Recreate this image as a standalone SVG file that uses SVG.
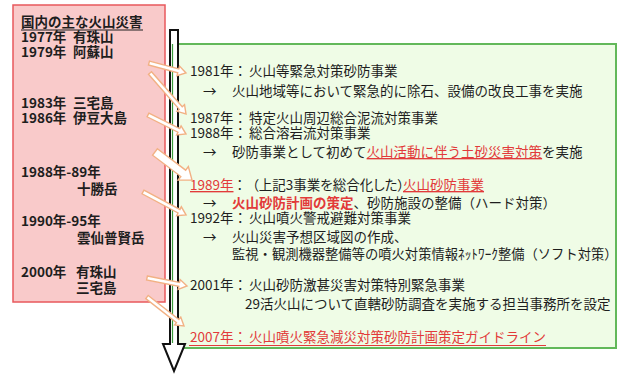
<svg xmlns="http://www.w3.org/2000/svg" width="618" height="376" viewBox="0 0 618 376">
<style>
.t{font-family:"Noto Sans CJK JP","Noto Sans",sans-serif;font-size:13.5px;fill:#1e1e1e}
.b{font-weight:bold}
.r{fill:#e23a3a}
.u{text-decoration:underline}
.p{font-feature-settings:"palt"}
.con{fill:#ffffff;stroke:#f2b184;stroke-width:1.4;stroke-linejoin:miter}
</style>
<rect width="618" height="376" fill="#ffffff"/>
<g id="disasters">
<rect x="13" y="5" width="152" height="297" fill="#f9caca" stroke="#e8585c" stroke-width="1.5"/>
<text class="t b" x="21" y="27">国内の主な火山災害</text>
<line x1="21" y1="30" x2="143" y2="30" stroke="#1e1e1e" stroke-width="1.2"/>
<text class="t b" x="21" y="42">1977年</text><text class="t b" x="73" y="42">有珠山</text>
<text class="t b" x="21" y="57">1979年</text><text class="t b" x="73" y="57">阿蘇山</text>
<text class="t b" x="21" y="108">1983年</text><text class="t b" x="73" y="108">三宅島</text>
<text class="t b" x="21" y="123">1986年</text><text class="t b" x="73" y="123">伊豆大島</text>
<text class="t b" x="21" y="177">1988年-89年</text><text class="t b" x="77" y="194">十勝岳</text>
<text class="t b" x="21" y="226">1990年-95年</text><text class="t b" x="77" y="243">雲仙普賢岳</text>
<text class="t b" x="21" y="277">2000年</text><text class="t b" x="76" y="277">有珠山</text>
<text class="t b" x="76" y="293">三宅島</text>
</g>
<g id="measures">
<rect x="178" y="44" width="438" height="304" fill="#effce6" stroke="#62b85a" stroke-width="2"/>
<text class="t" x="190" y="76">1981年：</text><text class="t" x="249" y="76">火山等緊急対策砂防事業</text>
<text class="t" x="203" y="96">→</text><text class="t" x="232" y="96">火山地域等において緊急的に除石、設備の改良工事を実施</text>
<text class="t" x="190" y="123">1987年：</text><text class="t" x="249" y="123">特定火山周辺総合泥流対策事業</text>
<text class="t" x="190" y="138">1988年：</text><text class="t" x="249" y="138">総合溶岩流対策事業</text>
<text class="t" x="203" y="157">→</text><text class="t" x="232" y="157">砂防事業として初めて<tspan class="r u">火山活動に伴う土砂災害対策</tspan>を実施</text>
<text class="t r u" x="190" y="190">1989年</text><text class="t" x="233" y="190">：</text><text class="t p" x="252" y="190">（上記3事業を総合化した）</text><text class="t r u" x="403" y="190">火山砂防事業</text>
<text class="t" x="203" y="208">→</text><text class="t" x="232" y="208"><tspan class="r b">火山砂防計画の策定</tspan>、砂防施設の整備（ハード対策）</text>
<text class="t" x="190" y="223">1992年：</text><text class="t" x="249" y="223">火山噴火警戒避難対策事業</text>
<text class="t" x="203" y="242">→</text><text class="t" x="232" y="242">火山災害予想区域図の作成、</text>
<text class="t" x="232" y="259" style="font-size:13.3px">監視・観測機器整備等の噴火対策情報ﾈｯﾄﾜｰｸ整備（ソフト対策）</text>
<text class="t" x="190" y="290">2001年：</text><text class="t" x="249" y="290">火山砂防激甚災害対策特別緊急事業</text>
<text class="t" x="245" y="309">29活火山について直轄砂防調査を実施する担当事務所を設定</text>
<text class="t r" x="190" y="342">2007年：</text><text class="t r" x="249" y="342">火山噴火緊急減災対策砂防計画策定ガイドライン</text>
<line x1="189" y1="345.5" x2="546" y2="345.5" stroke="#e23a3a" stroke-width="1.2"/>
</g>
<g id="timeline">
<path d="M170,30 L178,30 L178,344 L185,344 L174,371 L163,344 L170,344 Z" fill="#ffffff" stroke="#111111" stroke-width="2" stroke-linejoin="miter"/>
<line x1="172.5" y1="44" x2="172.5" y2="343" stroke="#3a9a3a" stroke-width="1.2"/>
</g>
<g id="connectors">
<path class="con" transform="translate(149,63) rotate(15.1)" d="M0,-2 L30.3,-2 L30.3,-5 L38.3,0 L30.3,5 L30.3,2 L0,2 Z"/>
<path class="con" transform="translate(150,73) rotate(48.7)" d="M0,-2 L46.6,-2 L46.6,-5 L54.6,0 L46.6,5 L46.6,2 L0,2 Z"/>
<path class="con" transform="translate(148,115) rotate(26.6)" d="M0,-2 L34.5,-2 L34.5,-5 L42.5,0 L34.5,5 L34.5,2 L0,2 Z"/>
<path class="con" transform="translate(155,152) rotate(37.1)" d="M0,-4 L35.4,-4 L35.4,-8.5 L46.4,0 L35.4,8.5 L35.4,4 L0,4 Z" stroke="#eeb48c"/>
<path class="con" transform="translate(143,192) rotate(28.1)" d="M0,-2 L40.8,-2 L40.8,-5 L48.8,0 L40.8,5 L40.8,2 L0,2 Z"/>
<path class="con" transform="translate(147,278) rotate(11.3)" d="M0,-2 L32.8,-2 L32.8,-5 L40.8,0 L32.8,5 L32.8,2 L0,2 Z"/>
<path class="con" transform="translate(147,297) rotate(38.1)" d="M0,-2 L39,-2 L39,-5 L47,0 L39,5 L39,2 L0,2 Z"/>
</g>
</svg>
